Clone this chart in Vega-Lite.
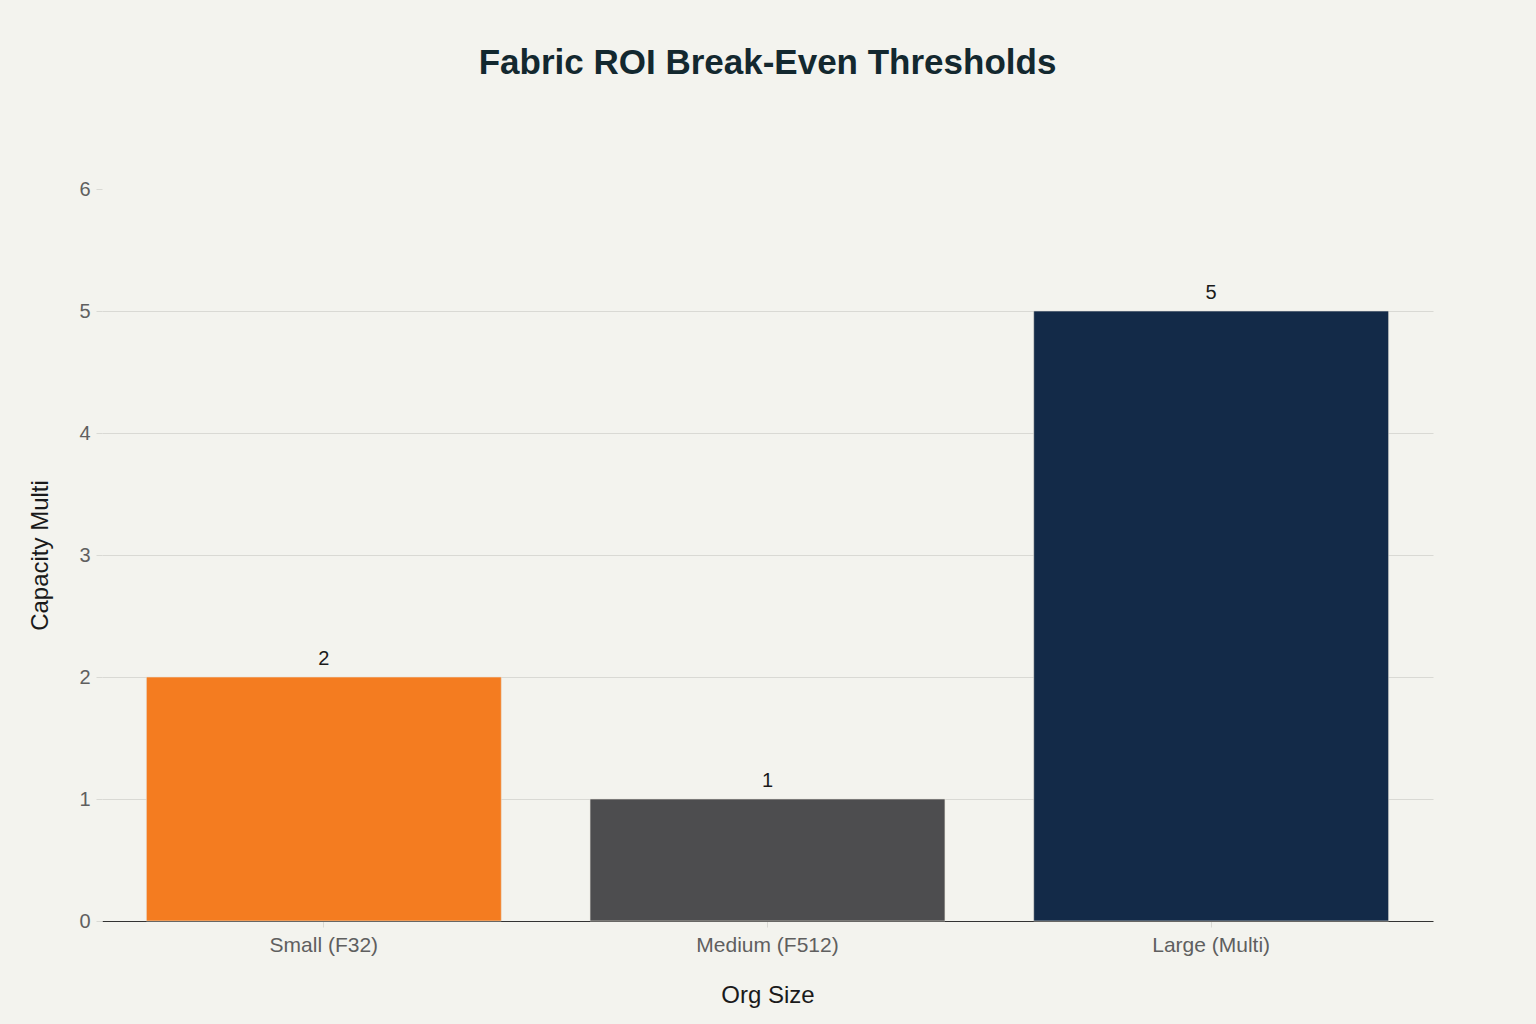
{
  "$schema": "https://vega.github.io/schema/vega-lite/v6.json",
  "autosize": {"type": "none"},
  "width": 1331,
  "height": 732,
  "padding": {"left": 102, "top": 189, "right": 103, "bottom": 103},
  "background": "#F3F3EE",
  "title": {
    "text": "Fabric ROI Break-Even Thresholds",
    "font": "Liberation Sans",
    "fontSize": 35,
    "fontWeight": "bold",
    "color": "#13282F",
    "anchor": "middle",
    "offset": 98
  },
  "data": {
    "values": [
      {"org": "Small (F32)", "multi": 2},
      {"org": "Medium (F512)", "multi": 1},
      {"org": "Large (Multi)", "multi": 5}
    ]
  },
  "encoding": {
    "x": {
      "field": "org",
      "type": "nominal",
      "sort": null,
      "title": "Org Size",
      "scale": {"paddingInner": 0.2, "paddingOuter": 0.1},
      "axis": {
        "labelAngle": 0,
        "labelFont": "Liberation Sans",
        "labelFontSize": 21,
        "labelColor": "#5F5F5F",
        "labelPadding": 7,
        "tickColor": "#D9D9D4",
        "tickSize": 6,
        "domainColor": "#333333",
        "titleFont": "Liberation Sans",
        "titleFontSize": 24,
        "titleFontWeight": "normal",
        "titleColor": "#1A1A1A",
        "titlePadding": 28
      }
    },
    "y": {
      "field": "multi",
      "type": "quantitative",
      "title": "Capacity Multi",
      "scale": {"domain": [0, 6], "nice": false},
      "axis": {
        "values": [0, 1, 2, 3, 4, 5, 6],
        "domain": false,
        "labelFont": "Liberation Sans",
        "labelFontSize": 20,
        "labelColor": "#5F5F5F",
        "labelPadding": 6,
        "tickColor": "#D9D9D4",
        "tickSize": 6,
        "gridColor": "#D9D9D4",
        "gridOpacity": {"condition": {"test": "datum.value == 6 || datum.value == 0", "value": 0}, "value": 1},
        "titleFont": "Liberation Sans",
        "titleFontSize": 24,
        "titleFontWeight": "normal",
        "titleColor": "#1A1A1A",
        "titlePadding": 26
      }
    }
  },
  "layer": [
    {
      "mark": {"type": "bar", "stroke": "#E8E4DC", "strokeWidth": 0.6},
      "encoding": {
        "color": {
          "field": "org",
          "type": "nominal",
          "sort": null,
          "legend": null,
          "scale": {
            "domain": ["Small (F32)", "Medium (F512)", "Large (Multi)"],
            "range": ["#F47C20", "#4D4D4F", "#132A48"]
          }
        }
      }
    },
    {
      "mark": {
        "type": "text",
        "baseline": "bottom",
        "dy": -8,
        "font": "Liberation Sans",
        "fontSize": 20,
        "color": "#1A1A1A"
      },
      "encoding": {"text": {"field": "multi", "type": "quantitative"}}
    }
  ],
  "config": {"view": {"stroke": null}}
}
